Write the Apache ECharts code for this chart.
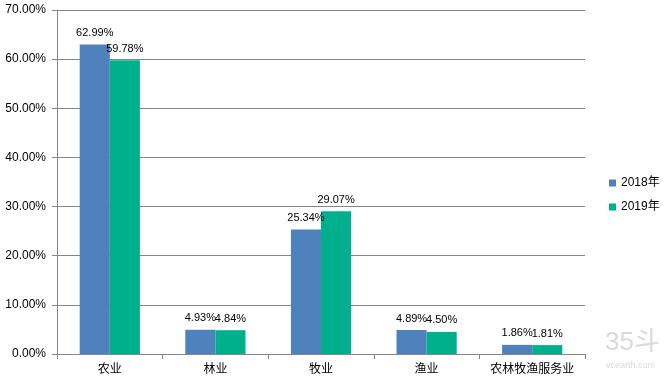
<!DOCTYPE html>
<html><head><meta charset="utf-8">
<script src="https://cdn.jsdelivr.net/npm/echarts@6/dist/echarts.min.js"></script>
<style>html,body{margin:0;padding:0;background:#fff}#c{width:666px;height:387px}</style>
</head><body><div id="c"></div>
<script>
const categories = ['农业','林业','牧业','渔业','农林牧渔服务业'];
const s2018 = [62.99, 4.93, 25.34, 4.89, 1.86];
const s2019 = [59.78, 4.84, 29.07, 4.50, 1.81];
const seriesNames = ['2018年','2019年'];
const colors = ['#4F81BD','#00B08C'];
const font = 'Liberation Sans, Noto Sans CJK SC, sans-serif';
const chart = echarts.init(document.getElementById('c'), null, {renderer:'canvas'});
const lbl = {show:true, position:'top', distance:6, color:'#000', fontSize:11, fontFamily:font, formatter:p=>p.value.toFixed(2)+'%'};
chart.setOption({
  animation:false,
  backgroundColor:'#fff',
  grid:{left:57, right:81, top:10, bottom:33, containLabel:false},
  legend:{orient:'vertical', left:604, top:172, itemWidth:7, itemHeight:7, itemGap:12, icon:'rect',
    textStyle:{fontSize:12, color:'#000', fontFamily:font}, data:seriesNames},
  xAxis:{type:'category', data:categories,
    axisLine:{lineStyle:{color:'#868686'}},
    axisTick:{show:true, alignWithLabel:false, interval:0, length:5, lineStyle:{color:'#868686'}},
    axisLabel:{color:'#000', fontSize:12, margin:10, interval:0, fontFamily:font}},
  yAxis:{type:'value', min:0, max:70, interval:10,
    axisLine:{show:true, lineStyle:{color:'#868686'}},
    axisTick:{show:true, length:5, lineStyle:{color:'#868686'}},
    splitLine:{lineStyle:{color:'#868686'}},
    axisLabel:{color:'#000', fontSize:12, margin:11, fontFamily:font, formatter:v=>v.toFixed(2)+'%'}},
  series:[
    {name:seriesNames[0], type:'bar', data:s2018, itemStyle:{color:colors[0]}, barGap:'0%', barCategoryGap:'43%', label:lbl},
    {name:seriesNames[1], type:'bar', data:s2019, itemStyle:{color:colors[1]}, barGap:'0%', barCategoryGap:'43%', label:lbl}
  ],
  graphic:[
    {type:'text', left:605, top:330, style:{text:'35斗', fontSize:26, fill:'#d9d9d9', fontFamily:font}},
    {type:'text', left:606, top:361, style:{text:'vcearth.com', fontSize:9, fill:'#d9d9d9', fontFamily:font}}
  ]
});
</script></body></html>
